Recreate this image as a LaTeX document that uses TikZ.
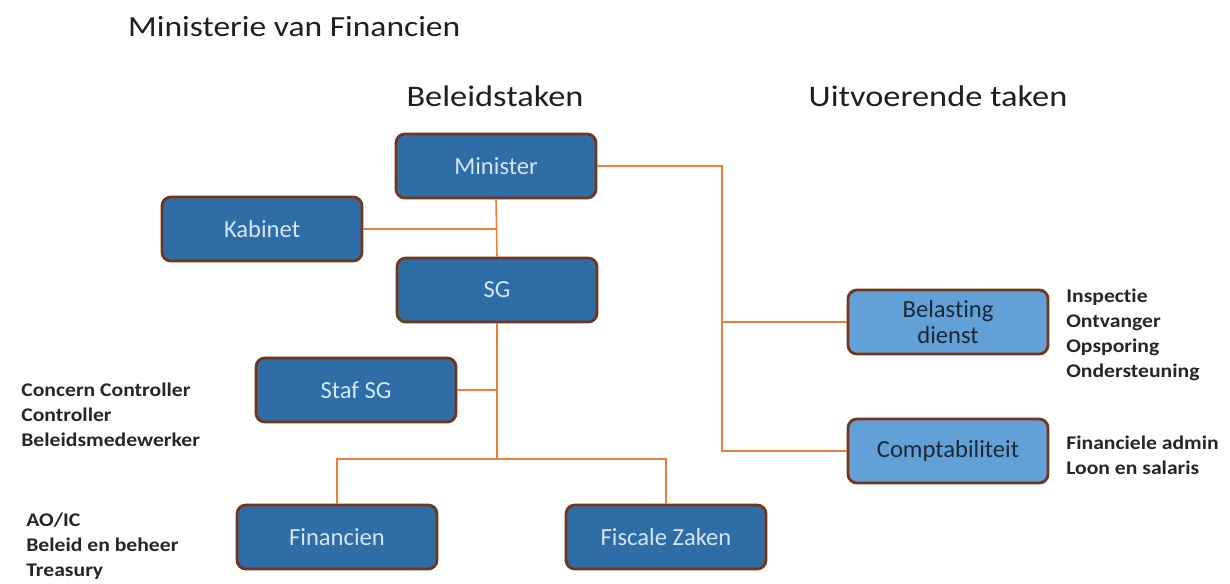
\documentclass[tikz,border=0pt]{standalone}
\usepackage{fontspec}
\setmainfont[Ligatures=NoCommon]{Carlito}
\newfontfamily\headfont[Ligatures=NoCommon,FakeStretch=1.15]{Carlito}
\newfontfamily\sidefont[Ligatures=NoCommon,FakeStretch=1.12]{Carlito}
\usetikzlibrary{positioning}
\definecolor{boxblue}{HTML}{2F6DA6}
\definecolor{lightblue}{HTML}{62A0D8}
\definecolor{boxrim}{HTML}{73361A}
\definecolor{boxtext}{HTML}{D4E5F4}
\definecolor{servtext}{HTML}{1C2833}
\definecolor{linkorange}{HTML}{EE7E3C}
\tikzset{
	unit/.style={draw=boxrim,line width=1.6pt,fill=boxblue,rounded corners=5pt,minimum width=4cm,minimum height=1.28cm,text=boxtext,font=\fontsize{14}{16}\selectfont,align=center},
	service/.style={unit,fill=lightblue,text=servtext,font=\fontsize{14}{14.5}\selectfont},
	link/.style={draw=linkorange,line width=0.9pt},
	tasks/.style={anchor=north west,inner sep=0pt,align=left,font=\sidefont\fontsize{11}{14.2}\selectfont\bfseries,text=black!85},
	heading/.style={font=\headfont\fontsize{17}{19}\selectfont,text=black!88}
}
\begin{document}
\begin{tikzpicture}[x=0.02cm,y=-0.02cm]
		\useasboundingbox (0,0) rectangle (1230,583);
		% titles
		\node[heading,anchor=base west,font=\headfont\fontsize{16.6}{19}\selectfont] (title) at (122,36) {Ministerie van Financien};
		\node[heading,anchor=base] (policy) at (495,106) {Beleidstaken};
		\node[heading,anchor=base] (exec) at (938,106) {Uitvoerende taken};
		% boxes
		\node[unit] (min) at (496,166) {Minister};
		\node[unit] (kab) at (262,229) {Kabinet};
		\node[unit] (sg) at (497,290) {SG};
		\node[unit] (staf) at (356,390) {Staf SG};
		\node[unit] (fin) at (337,537) {Financien};
		\node[unit] (fis) at (666,537) {Fiscale Zaken};
		\node[service] (bel) at (948,322) {Belasting\\dienst};
		\node[service] (comp) at (948,451) {Comptabiliteit};
		% side texts
		\node[tasks] (belt) at (1066,289) {Inspectie\\Ontvanger\\Opsporing\\Ondersteuning};
		\node[tasks] (compt) at (1066,436) {Financiele admin\\Loon en salaris};
		\node[tasks] (staft) at (21,383) {Concern Controller\\Controller\\Beleidsmedewerker};
		\node[tasks] (fint) at (26,513) {AO/IC\\Beleid en beheer\\Treasury};
		% connectors
		\coordinate (rail) at (722,166);
		\coordinate (split) at (497,459);
		\draw[link] (min.south) -- (sg.north);
		\draw[link] (kab.east) -- (kab.east -| min.south);
		\draw[link] (min.east) -- (rail) |- (comp.west);
		\draw[link] (bel.west) -- (bel.west -| rail);
		\draw[link] (sg.south) -- (split);
		\draw[link] (staf.east) -- (staf.east -| sg.south);
		\draw[link] (fin.north) |- (split) -| (fis.north);
	\end{tikzpicture}
\end{document}
